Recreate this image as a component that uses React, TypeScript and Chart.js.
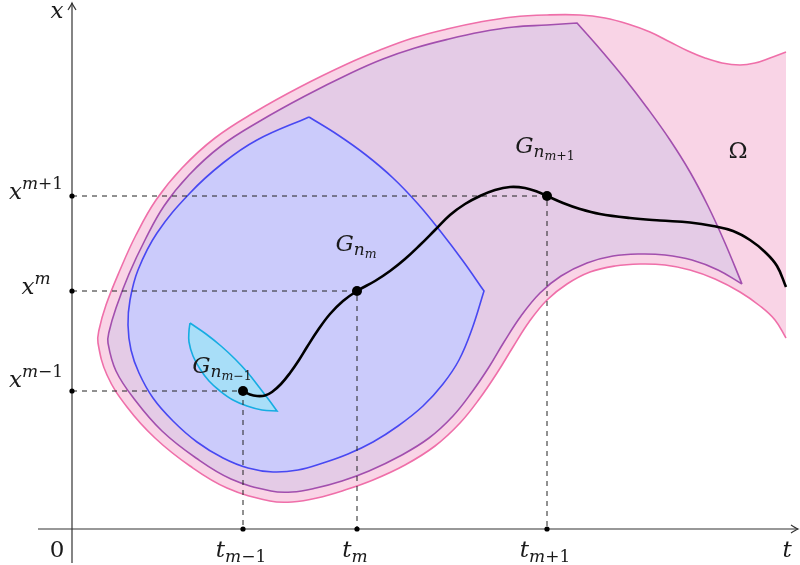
import React, { useEffect, useRef } from "react";
import { Chart, registerables } from "chart.js";

Chart.register(...registerables);

type Pt = [number, number];

// Tick values on the two axes (t horizontal, x vertical)
const T_TICKS: number[] = [171, 285, 475];
const X_TICKS: number[] = [138, 238, 333];
const T_TICK_SUBS: string[] = ["m", "m", "m"];
const T_TICK_OFFS: string[] = ["−1", "", "+1"];
const X_TICK_SUPS: string[] = ["m", "m", "m"];
const X_TICK_OFFS: string[] = ["−1", "", "+1"];
const G_SUB_OFFS: string[] = ["−1", "", "+1"];

// Axis extents
const T_AXIS: Pt[] = [[-34, 0], [726, 0]];
const X_AXIS: Pt[] = [[0, -34], [0, 526]];

// Domain Omega (open path, closed by the straight right edge)
const OMEGA: Pt[] = [
  [714, 477], [698, 471], [683, 466], [668, 464], [650, 466], [633, 471], [616, 478], [598, 487],
  [578, 497], [556, 505], [533, 511], [508, 514], [475, 514], [441, 512], [408, 507], [375, 500],
  [341, 491], [308, 479], [275, 465], [228, 442], [183, 417], [143, 391], [110, 361], [84, 329],
  [64, 294], [48, 259], [34, 224], [27, 199], [26, 186], [35, 154], [55, 122], [83, 91],
  [118, 63], [155, 41], [198, 28], [220, 27], [245, 31], [273, 39], [301, 49], [333, 64],
  [363, 83], [388, 106], [408, 131], [425, 156], [441, 182], [457, 207], [475, 229], [495, 245],
  [518, 257], [543, 263], [568, 265], [593, 264], [618, 259], [643, 250], [668, 237], [688, 223],
  [703, 209], [714, 191],
];

// Purple region G_{n_{m+1}}
const G_NEXT: Pt[] = [
  [670, 245], [653, 286], [636, 323], [618, 357], [598, 389], [576, 420], [553, 450], [528, 480],
  [505, 506], [505, 506], [475, 504], [442, 502], [409, 497], [377, 490], [343, 481], [311, 470],
  [279, 456], [233, 433], [188, 408], [149, 383], [117, 354], [92, 323], [73, 289], [57, 255],
  [44, 221], [37, 197], [36, 186], [44, 158], [63, 129], [90, 98], [124, 71], [159, 50],
  [199, 38], [220, 37], [244, 41], [270, 48], [297, 58], [328, 73], [357, 91], [381, 113],
  [400, 137], [417, 162], [432, 187], [449, 213], [468, 236], [489, 253], [515, 266], [541, 273],
  [568, 275], [593, 274], [620, 269], [646, 259], [670, 245],
];

// Blue region G_{n_m}
const G_CUR: Pt[] = [
  [237, 412], [266, 394], [294, 374], [321, 351], [346, 325], [369, 297], [391, 268], [412, 238],
  [412, 238], [400, 200], [387, 169], [371, 145], [351, 123], [326, 103], [301, 87], [276, 75],
  [251, 66], [226, 59], [201, 57], [176, 61], [151, 71], [125, 87], [101, 108], [81, 131],
  [67, 156], [59, 179], [56, 204], [58, 229], [66, 259], [85, 296], [118, 336], [151, 366],
  [185, 389], [237, 412],
];

// Cyan lens G_{n_{m-1}}
const G_PREV: Pt[] = [
  [118, 206], [134, 195], [149, 183], [163, 170], [176, 156], [187, 142], [197, 129], [205, 118],
  [205, 118], [190, 119], [175, 123], [161, 129], [148, 138], [137, 148], [128, 160], [121, 173],
  [117, 187], [117, 198], [118, 206],
];

// Trajectory x(t)
const TRAJECTORY: Pt[] = [
  [171, 138], [178, 134.5], [185, 133], [193, 133.5], [200, 137], [209, 145], [218, 156], [227, 169],
  [235, 182], [246, 199], [258, 215], [271, 228], [285, 238], [303, 248], [318, 258], [333, 270],
  [348, 284], [363, 299], [378, 314], [393, 325], [408, 333], [423, 339], [438, 342], [453, 341],
  [466, 337], [475, 333], [491, 326], [508, 320], [528, 315], [558, 311], [588, 308.5], [618, 306.5],
  [641, 303], [661, 298], [678, 289], [693, 277], [705, 263], [714, 242],
];

const FONT = '"DejaVu Serif", "Liberation Serif", serif';
const C_OMEGA_FILL = "#f9d4e6";
const C_OMEGA_LINE = "#ef6fa9";
const C_NEXT_FILL = "#e4cbe6";
const C_NEXT_LINE = "#a24fae";
const C_CUR_FILL = "#cbcbfb";
const C_CUR_LINE = "#4848f2";
const C_PREV_FILL = "#a8def8";
const C_PREV_LINE = "#16ade2";
const C_AXIS = "#333333";

type Part = { s: string; size: number; dy: number; it: boolean };

function drawMath(ctx: CanvasRenderingContext2D, parts: Part[], cx: number, base: number) {
  const widths = parts.map((p) => {
    ctx.font = `${p.it ? "italic " : ""}${p.size}px ${FONT}`;
    return ctx.measureText(p.s).width;
  });
  const total = widths.reduce((a, b) => a + b, 0);
  let x = cx - total / 2;
  parts.forEach((p, i) => {
    ctx.font = `${p.it ? "italic " : ""}${p.size}px ${FONT}`;
    ctx.fillText(p.s, x, base + p.dy);
    x += widths[i];
  });
}

const M = 23, S = 17, SS = 12.5;

const mathPlugin = {
  id: "mathText",
  afterDatasetsDraw(chart: any) {
    const ctx: CanvasRenderingContext2D = chart.ctx;
    const xs = chart.scales.x;
    const ys = chart.scales.y;
    const px = (v: number) => xs.getPixelForValue(v);
    const py = (v: number) => ys.getPixelForValue(v);
    ctx.save();
    // arrow heads
    ctx.strokeStyle = C_AXIS;
    ctx.lineWidth = 1.2;
    const tx = px(T_AXIS[1][0]);
    const ty = py(0);
    ctx.beginPath();
    ctx.moveTo(tx - 7, ty - 4);
    ctx.quadraticCurveTo(tx - 2, ty - 0.8, tx, ty);
    ctx.quadraticCurveTo(tx - 2, ty + 0.8, tx - 7, ty + 4);
    ctx.stroke();
    const ax = px(0);
    const ay = py(X_AXIS[1][1]);
    ctx.beginPath();
    ctx.moveTo(ax - 4, ay + 7);
    ctx.quadraticCurveTo(ax - 0.8, ay + 2, ax, ay);
    ctx.quadraticCurveTo(ax + 0.8, ay + 2, ax + 4, ay + 7);
    ctx.stroke();

    ctx.fillStyle = "#1a1a1a";
    ctx.textAlign = "left";
    ctx.textBaseline = "alphabetic";
    const x0 = px(0);
    const y0 = py(0);
    // t tick labels
    T_TICKS.forEach((t, i) => {
      const parts: Part[] = [
        { s: "t", size: M, dy: 0, it: true },
        { s: T_TICK_SUBS[i], size: S, dy: 5, it: true },
      ];
      if (T_TICK_OFFS[i]) parts.push({ s: T_TICK_OFFS[i], size: S, dy: 5, it: false });
      drawMath(ctx, parts, px(t) - 2, y0 + 28);
    });
    // x tick labels
    const xOffs = [-4, 3, 3];
    X_TICKS.forEach((v, i) => {
      const parts: Part[] = [
        { s: "x", size: M, dy: 0, it: true },
        { s: X_TICK_SUPS[i], size: S, dy: -10, it: true },
      ];
      if (X_TICK_OFFS[i]) parts.push({ s: X_TICK_OFFS[i], size: S, dy: -10, it: false });
      drawMath(ctx, parts, x0 - 36, py(v) + xOffs[i]);
    });
    // axis names and origin
    drawMath(ctx, [{ s: "x", size: M, dy: 0, it: true }], x0 - 15, py(511));
    drawMath(ctx, [{ s: "t", size: M, dy: 0, it: true }], px(715), y0 + 28);
    drawMath(ctx, [{ s: "0", size: M, dy: 0, it: false }], x0 - 15, y0 + 28);
    // region labels
    const gPos: Pt[] = [[150, 156], [284, 278], [473, 376]];
    gPos.forEach((p, i) => {
      const parts: Part[] = [
        { s: "G", size: M, dy: 0, it: true },
        { s: "n", size: S, dy: 4, it: true },
        { s: "m", size: SS, dy: 7, it: true },
      ];
      if (G_SUB_OFFS[i]) parts.push({ s: G_SUB_OFFS[i], size: SS, dy: 7, it: false });
      drawMath(ctx, parts, px(p[0]), py(p[1]));
    });
    drawMath(ctx, [{ s: "Ω", size: M, dy: 0, it: false }], px(666), py(371));
    ctx.restore();
  },
};

const toXY = (pts: Pt[]) => pts.map(([x, y]) => ({ x, y }));

export default function App() {
  const ref = useRef<HTMLCanvasElement | null>(null);
  useEffect(() => {
    if (!ref.current) return;
    const region = (pts: Pt[], fill: string, line: string, order: number) => ({
      data: toXY(pts),
      showLine: true,
      fill: "shape",
      backgroundColor: fill,
      borderColor: line,
      borderWidth: 1.6,
      tension: 0.4,
      pointRadius: 0,
      order,
    });
    const dashed = T_TICKS.map((t, i) => ({
      data: toXY([[0, X_TICKS[i]], [t, X_TICKS[i]], [t, 0]]),
      showLine: true,
      fill: false,
      borderColor: "#222",
      borderWidth: 1,
      borderDash: [5, 5],
      tension: 0,
      pointRadius: 0,
      order: 6,
    }));
    const axisLine = (pts: Pt[]) => ({
      data: toXY(pts),
      showLine: true,
      fill: false,
      borderColor: C_AXIS,
      borderWidth: 1.2,
      tension: 0,
      pointRadius: 0,
      order: 5,
    });
    const axisDots: Pt[] = [
      ...T_TICKS.map((t) => [t, 0] as Pt),
      ...X_TICKS.map((v) => [0, v] as Pt),
    ];
    const chart = new Chart(ref.current, {
      type: "scatter",
      data: {
        datasets: [
          region(OMEGA, C_OMEGA_FILL, C_OMEGA_LINE, 10),
          region(G_NEXT, C_NEXT_FILL, C_NEXT_LINE, 9),
          region(G_CUR, C_CUR_FILL, C_CUR_LINE, 8),
          region(G_PREV, C_PREV_FILL, C_PREV_LINE, 7),
          ...dashed,
          axisLine(T_AXIS),
          axisLine(X_AXIS),
          {
            data: toXY(TRAJECTORY),
            showLine: true,
            fill: false,
            borderColor: "#000",
            borderWidth: 2.6,
            tension: 0.4,
            pointRadius: 0,
            order: 4,
          },
          {
            data: toXY(axisDots),
            showLine: false,
            pointRadius: 2.6,
            pointBackgroundColor: "#000",
            pointBorderWidth: 0,
            order: 3,
          },
          {
            data: toXY(T_TICKS.map((t, i) => [t, X_TICKS[i]] as Pt)),
            showLine: false,
            pointRadius: 5,
            pointBackgroundColor: "#000",
            pointBorderWidth: 0,
            order: 2,
          },
        ] as any,
      },
      options: {
        animation: false,
        responsive: false,
        maintainAspectRatio: false,
        devicePixelRatio: 1,
        events: [],
        layout: { padding: 0, autoPadding: false },
        plugins: {
          legend: { display: false },
          tooltip: { enabled: false },
          title: { display: false },
        },
        scales: {
          x: { type: "linear", min: -72, max: 728, display: false },
          y: { type: "linear", min: -36, max: 529, display: false },
        },
      } as any,
      plugins: [mathPlugin],
    });
    return () => chart.destroy();
  }, []);
  return (
    <div style={{ position: "absolute", left: 0, top: 0, width: 800, height: 565, background: "#fff" }}>
      <canvas ref={ref} width={800} height={565} style={{ display: "block", width: 800, height: 565 }} />
    </div>
  );
}
